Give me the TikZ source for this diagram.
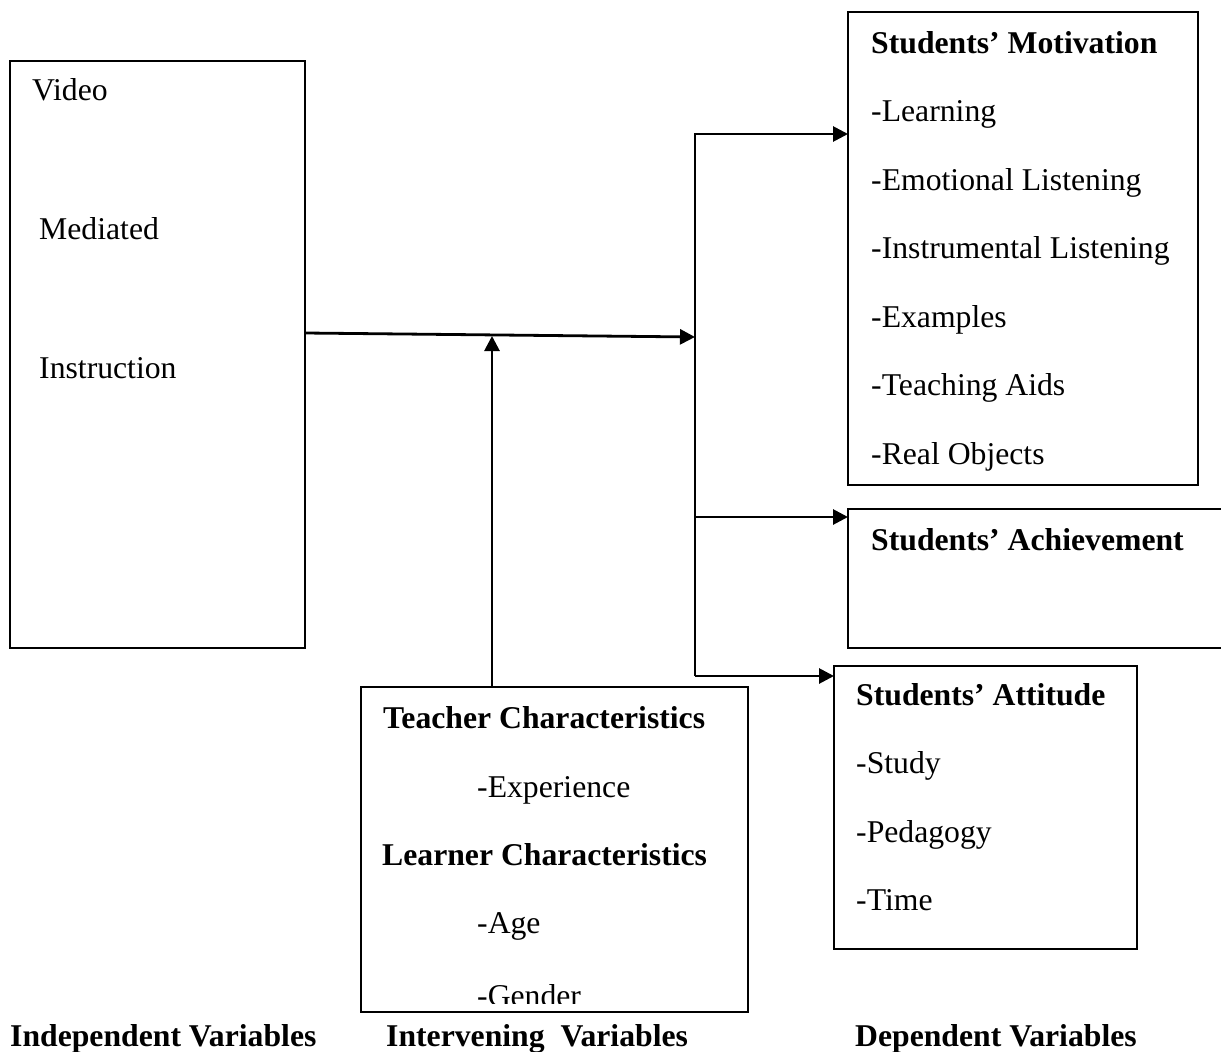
\documentclass[tikz,border=0pt]{standalone}
\usepackage{fontspec}
\setmainfont{Liberation Serif}
\usetikzlibrary{arrows.meta}
\begin{document}
\begin{tikzpicture}[x=1pt,y=-1pt,
  box/.style={draw, line width=2pt, inner sep=0pt, outer sep=0pt, anchor=north west},
  lbl/.style={anchor=base west, inner sep=0pt, font=\fontsize{31.7}{38}\selectfont},
  blbl/.style={lbl, font=\fontsize{31.7}{38}\selectfont\bfseries},
  conn/.style={line width=2.8pt},
  arr/.style={conn, -{Triangle[length=15pt,width=15pt]}}]
\clip (0,0) rectangle (1221,1052);
\fill[white] (0,0) rectangle (1221,1052);

% boxes
\node[box, minimum width=295pt, minimum height=587pt] (indep) at (10,61) {};
\node[box, minimum width=350pt, minimum height=473pt] (motiv) at (848,12) {};
\node[box, minimum width=420pt, minimum height=139pt] (achv) at (848,509) {};
\node[box, minimum width=303pt, minimum height=283pt] (attit) at (834,666) {};
\node[box, minimum width=387pt, minimum height=325pt] (interv) at (361,687) {};

% independent
\node[lbl] (tvideo) at (32,100) {Video};
\node[lbl] (tmed) at (39,239) {Mediated};
\node[lbl] (tinst) at (39,378) {Instruction};

% motivation
\node[blbl] (tmot) at (871,53) {Students’ Motivation};
\node[lbl] (m1) at (871,121.5) {-Learning};
\node[lbl] (m2) at (871,190) {-Emotional Listening};
\node[lbl] (m3) at (871,258.5) {-Instrumental Listening};
\node[lbl] (m4) at (871,327) {-Examples};
\node[lbl] (m5) at (871,395.5) {-Teaching Aids};
\node[lbl] (m6) at (871,464) {-Real Objects};

% achievement
\node[blbl] (tach) at (871,550) {Students’ Achievement};

% attitude
\node[blbl] (tatt) at (856,705) {Students’ Attitude};
\node[lbl] (a1) at (856,773) {-Study};
\node[lbl] (a2) at (856,842) {-Pedagogy};
\node[lbl] (a3) at (856,910) {-Time};

% intervening
\node[blbl] (tteach) at (383,728) {Teacher Characteristics};
\node[lbl] (i1) at (477,797) {-Experience};
\node[blbl] (tlearn) at (382,865) {Learner Characteristics};
\node[lbl] (i2) at (477,933) {-Age};
\begin{scope}
\clip (361,687) rectangle (748,1003);
\node[lbl] (i3) at (477,1006) {-Gender};
\end{scope}

% bottom labels
\node[blbl] (bind) at (10,1046) {Independent Variables};
\node[blbl] (bint) at (386,1046) {Intervening~ Variables};
\node[blbl] (bdep) at (855,1046) {Dependent Variables};

% connectors
\coordinate (m0) at (305,333);
\coordinate (busm) at (695,337);
\coordinate (btop) at (695,134);
\coordinate (bach) at (695,517);
\coordinate (bbot) at (695,676);
\coordinate (vbot) at (492,687);
\coordinate (vtop) at (492,336);

\draw[arr] (m0) -- (busm);
\draw[arr, line join=miter] (bbot) -- (btop) -- (motiv.west |- btop);
\draw[arr] (bach) -- (achv.west |- bach);
\draw[arr] (bbot) -- (attit.west |- bbot);
\draw[arr] (vbot) -- (vtop);
\end{tikzpicture}
\end{document}
